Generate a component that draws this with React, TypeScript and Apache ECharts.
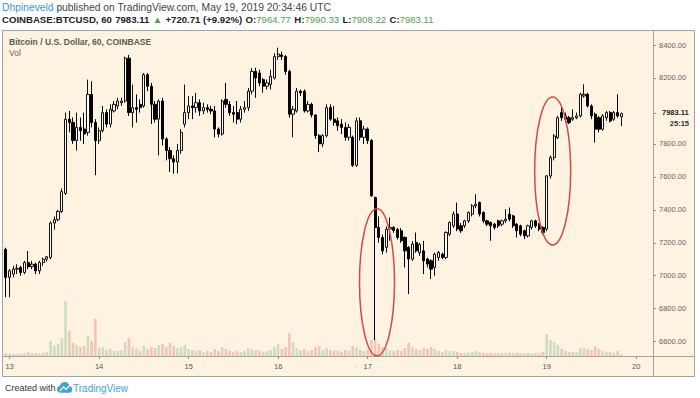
import React, { useEffect, useRef } from "react";
import * as echarts from "echarts";

// Hourly candles, [open, close, low, high]; first candle = May 12 23:00 UTC
const may12 = [[7160, 6990, 6870, 7170]];
const may13 = [
  [6990, 7030, 6870, 7040], [7010, 7040, 6990, 7060], [7040, 7045, 7010, 7070], [7050, 7020, 7000, 7060],
  [7020, 7080, 7010, 7090], [7080, 7055, 7040, 7150], [7055, 7070, 7040, 7090], [7070, 7030, 7010, 7080],
  [7030, 7080, 7010, 7090], [7080, 7100, 7060, 7110], [7100, 7115, 7085, 7120], [7110, 7320, 7100, 7330],
  [7320, 7340, 7280, 7360], [7340, 7390, 7330, 7400], [7390, 7510, 7380, 7530], [7500, 7950, 7490, 7990],
  [7950, 7930, 7870, 8000], [7930, 7820, 7800, 7960], [7820, 7900, 7760, 7990], [7900, 7880, 7820, 7960],
  [7890, 7860, 7800, 7990], [7870, 8100, 7850, 8190], [8100, 7930, 7900, 8180], [7930, 7820, 7610, 7950],
];
const may14 = [
  [7820, 7880, 7800, 7900], [7880, 7990, 7870, 8030], [7990, 7920, 7900, 8010], [7920, 8010, 7900, 8040],
  [8000, 8040, 7990, 8060], [8030, 8060, 8010, 8080], [8050, 8060, 8030, 8080], [8060, 8320, 8050, 8330],
  [8320, 7990, 7970, 8340], [7990, 8020, 7900, 8160], [8020, 8010, 7930, 8100], [8040, 8020, 7990, 8070],
  [8030, 8220, 8020, 8230], [8220, 8150, 8120, 8230], [8150, 8040, 7920, 8170], [8040, 7950, 7930, 8060],
  [7950, 8060, 7730, 8070], [8060, 7830, 7790, 8080], [7830, 7760, 7700, 7840], [7760, 7710, 7630, 7780],
  [7710, 7690, 7620, 7730], [7690, 7760, 7620, 7800], [7760, 7870, 7740, 7890], [7920, 7990, 7900, 8160],
];
const may15 = [
  [7990, 8030, 7950, 8090], [8030, 8020, 7950, 8090], [8020, 8050, 7990, 8110], [8050, 8000, 7970, 8070],
  [8000, 8020, 7980, 8050], [8020, 8010, 7990, 8040], [8010, 8000, 7980, 8030], [8000, 7890, 7840, 8030],
  [7890, 7860, 7840, 7900], [7860, 8060, 7850, 8070], [8070, 8040, 8020, 8170], [8040, 7990, 7970, 8060],
  [7990, 7980, 7930, 8030], [7990, 7950, 7920, 8060], [7950, 8010, 7930, 8030], [8010, 8020, 7990, 8060],
  [8020, 8120, 8000, 8140], [8120, 8240, 8100, 8260], [8240, 8200, 8080, 8262], [8230, 8170, 8150, 8250],
  [8190, 8150, 8110, 8200], [8150, 8170, 8130, 8190], [8160, 8210, 8130, 8250], [8200, 8330, 8190, 8350],
];
const may16 = [
  [8330, 8345, 8310, 8384], [8340, 8330, 8310, 8360], [8330, 8240, 8220, 8340], [8240, 7980, 7960, 8250],
  [7980, 8010, 7840, 8030], [8000, 8120, 7990, 8140], [8120, 8110, 8090, 8130], [8120, 8000, 7990, 8130],
  [8000, 8040, 7990, 8060], [8040, 7975, 7960, 8050], [7975, 7850, 7830, 7980], [7850, 7800, 7750, 7860],
  [7800, 7850, 7780, 7860], [7850, 8020, 7840, 8040], [8020, 7950, 7940, 8040], [7950, 7930, 7910, 8030],
  [7940, 7910, 7880, 7960], [7920, 7900, 7860, 7950], [7900, 7840, 7820, 7930], [7840, 7900, 7820, 7920],
  [7840, 7670, 7660, 7850], [7670, 7940, 7660, 7960], [7940, 7840, 7820, 7960], [7840, 7890, 7800, 7910],
];
const may17 = [
  [7890, 7820, 7800, 7900], [7820, 7485, 7480, 7830], [7475, 7293, 6610, 7480], [7293, 7232, 7200, 7360],
  [7232, 7151, 7130, 7250], [7172, 7283, 7140, 7300], [7283, 7293, 7212, 7353], [7293, 7275, 7260, 7300],
  [7280, 7232, 7220, 7290], [7273, 7212, 7200, 7290], [7232, 7151, 7050, 7240], [7172, 7101, 6889, 7180],
  [7101, 7192, 7090, 7210], [7202, 7151, 7140, 7262], [7140, 7190, 7120, 7200], [7151, 7091, 7010, 7212],
  [7101, 7071, 7050, 7110], [7091, 7040, 6980, 7100], [7050, 7131, 7000, 7140], [7111, 7141, 7090, 7150],
  [7131, 7111, 7100, 7140], [7111, 7262, 7100, 7270], [7252, 7323, 7240, 7330], [7303, 7374, 7290, 7390],
];
const may18 = [
  [7374, 7283, 7270, 7444], [7303, 7273, 7260, 7320], [7303, 7333, 7290, 7340], [7333, 7384, 7320, 7390],
  [7374, 7424, 7360, 7435], [7424, 7434, 7410, 7495], [7444, 7374, 7360, 7450], [7384, 7333, 7320, 7390],
  [7333, 7313, 7300, 7340], [7323, 7303, 7212, 7330], [7313, 7293, 7280, 7320], [7333, 7303, 7290, 7340],
  [7313, 7333, 7300, 7340], [7333, 7343, 7320, 7404], [7374, 7343, 7330, 7414], [7363, 7303, 7290, 7370],
  [7313, 7273, 7232, 7320], [7303, 7252, 7240, 7310], [7273, 7242, 7222, 7280], [7242, 7303, 7232, 7310],
  [7293, 7333, 7280, 7340], [7333, 7303, 7290, 7340], [7313, 7283, 7270, 7320], [7293, 7262, 7250, 7300],
];
const may19 = [
  [7283, 7606, 7270, 7610], [7606, 7717, 7590, 7730], [7717, 7848, 7700, 7860], [7838, 7959, 7830, 7970],
  [7990, 7959, 7940, 8030], [7950, 7970, 7930, 7990], [7959, 7929, 7920, 7970], [7950, 7959, 7940, 8010],
  [7959, 7970, 7950, 7990], [7970, 8101, 7960, 8110], [8091, 8101, 8080, 8162], [8101, 8030, 8020, 8110],
  [8030, 7970, 7950, 8040], [7980, 7889, 7808, 7990], [7959, 7889, 7870, 7970], [7889, 7970, 7880, 7980],
  [7959, 7990, 7940, 8000], [7990, 7939, 7930, 8000], [7950, 7990, 7940, 8000], [7990, 7970, 7960, 8101],
  [7964.77, 7983.11, 7908.22, 7990.33],
];

// Hourly volume (BTC)
const volMay12 = [300];
const volMay13 = [250, 200, 250, 200, 300, 400, 250, 300, 250, 300, 400, 1500, 1000, 1200, 1800, 5500, 2500, 1300, 1100, 900, 1000, 2000, 1500, 3700];
const volMay14 = [800, 900, 600, 700, 500, 500, 600, 1400, 1800, 900, 700, 500, 1000, 700, 900, 800, 1100, 1200, 900, 1300, 1000, 800, 900, 1100];
const volMay15 = [700, 600, 500, 600, 400, 500, 400, 700, 500, 900, 700, 500, 400, 500, 400, 500, 800, 700, 600, 500, 400, 500, 600, 900];
const volMay16 = [1200, 700, 900, 2300, 1400, 800, 600, 700, 500, 600, 900, 1000, 600, 800, 600, 500, 500, 400, 600, 500, 1000, 900, 600, 500];
const volMay17 = [600, 1600, 1700, 1200, 900, 800, 600, 500, 600, 500, 800, 1300, 900, 700, 600, 800, 700, 900, 700, 500, 400, 600, 500, 500];
const volMay18 = [400, 300, 300, 350, 400, 500, 400, 300, 250, 300, 250, 300, 250, 300, 350, 300, 350, 300, 250, 300, 250, 300, 250, 400];
const volMay19 = [2200, 1600, 1400, 1100, 700, 500, 400, 400, 400, 800, 900, 700, 600, 1000, 700, 500, 400, 400, 300, 500, 200];

const priceTicks = [6600, 6800, 7000, 7200, 7400, 7600, 7800, 8000, 8200, 8400];
const lastPrice = 7983.11;
const countdown = "25:15";
const firstDay = 12;
const firstHour = 23;
const slotCount = 174;

const FONT = "Liberation Sans";
const BG = "#fdf3e0";
const FRAME = "#a3a3a3";

const LOGO_D =
  "M4 12 C1.8 12 0 10.2 0 8 C0 6.1 1.4 4.5 3.3 4.1 C3.9 1.7 6.1 0 8.7 0 C11.4 0 13.6 1.9 14.1 4.5 C15.8 4.9 17 6.4 17 8.2 C17 10.3 15.3 12 13.2 12 Z";

export default function App() {
  const ref = useRef<HTMLDivElement>(null);
  useEffect(() => {
    echarts.graphic.registerShape("tvlogo", echarts.graphic.extendPath(LOGO_D, {}));
    const chart = echarts.init(ref.current as HTMLDivElement, null, { renderer: "svg" });
    const candles = [...may12, ...may13, ...may14, ...may15, ...may16, ...may17, ...may18, ...may19];
    const vols = [...volMay12, ...volMay13, ...volMay14, ...volMay15, ...volMay16, ...volMay17, ...volMay18, ...volMay19];
    const cats: string[] = [];
    for (let s = 0; s < slotCount; s++) {
      const t = firstHour + s;
      const d = firstDay + Math.floor(t / 24);
      const h = t % 24;
      cats.push(`${d} ${String(h).padStart(2, "0")}:00`);
    }
    const isMidnight = (_i: number, v: string) => v.endsWith(" 00:00");
    const volData = vols.map((v, i) => ({
      value: v,
      itemStyle: { color: candles[i][1] >= candles[i][0] ? "rgba(96,172,112,0.3)" : "rgba(214,96,86,0.3)" },
    }));
    // the last-price label hides the nearby regular tick label
    const shownTicks = priceTicks.filter((v) => Math.abs(v - lastPrice) > 60);

    chart.setOption({
      animation: false,
      backgroundColor: "#ffffff",
      grid: [
        { left: 4, right: 47, top: 31, bottom: 42 },
        { left: 4, right: 47, top: 281, bottom: 42 },
      ],
      xAxis: [
        {
          type: "category",
          gridIndex: 0,
          data: cats,
          boundaryGap: true,
          axisLine: { show: false },
          axisTick: { show: true, interval: isMidnight, alignWithLabel: true, length: 3, lineStyle: { color: "#888" } },
          axisLabel: {
            interval: isMidnight,
            formatter: (v: string) => v.split(" ")[0],
            fontSize: 7.5,
            fontFamily: FONT,
            color: "#555",
            margin: 6,
          },
          splitLine: { show: false },
        },
        { type: "category", gridIndex: 1, data: cats, show: false, boundaryGap: true },
      ],
      yAxis: [
        {
          type: "value",
          gridIndex: 0,
          position: "right",
          min: 6513,
          max: 8485,
          axisLine: { show: false },
          axisTick: { show: true, customValues: [...shownTicks, lastPrice], length: 3, lineStyle: { color: "#888" } },
          axisLabel: {
            customValues: shownTicks,
            formatter: (v: number) => v.toFixed(2),
            fontSize: 7.5,
            fontFamily: FONT,
            color: "#666",
            margin: 6,
          },
          splitLine: { show: false },
        },
        { type: "value", gridIndex: 1, min: 0, max: 7500, show: false },
      ],
      series: [
        {
          type: "bar",
          xAxisIndex: 1,
          yAxisIndex: 1,
          data: volData,
          barWidth: "70%",
          z: 1,
        },
        {
          type: "candlestick",
          xAxisIndex: 0,
          yAxisIndex: 0,
          data: candles,
          barWidth: "72%",
          z: 3,
          itemStyle: {
            color: "#ffffff",
            color0: "#000000",
            borderColor: "#111111",
            borderColor0: "#000000",
            borderWidth: 1,
          },
        },
      ],
    });

    const px = (i: number, p: number) => chart.convertToPixel({ xAxisIndex: 0, yAxisIndex: 0 }, [i, p]) as number[];
    const w = px(1, 7000)[0] - px(0, 7000)[0];
    const e1 = px(99, 6960);
    const e2 = px(146, 7636);
    const lp = px(0, lastPrice);

    chart.setOption({
      graphic: [
        {
          type: "rect",
          z: -100,
          silent: true,
          shape: { x: 2.5, y: 30.5, width: 692, height: 346 },
          style: { fill: BG, stroke: FRAME, lineWidth: 1 },
        },
        { type: "line", z: 50, silent: true, shape: { x1: 653.5, y1: 30.5, x2: 653.5, y2: 376.5 }, style: { stroke: FRAME, lineWidth: 1 } },
        { type: "line", z: 50, silent: true, shape: { x1: 2.5, y1: 356.5, x2: 694.5, y2: 356.5 }, style: { stroke: FRAME, lineWidth: 1 } },
        {
          type: "text",
          x: 2,
          y: 7,
          z: 50,
          style: {
            text: "{a|Dhpineveld}{b| published on TradingView.com, May 19, 2019 20:34:46 UTC}",
            verticalAlign: "middle",
            rich: {
              a: { fontSize: 10.3, fontFamily: FONT, fill: "#3c96d6" },
              b: { fontSize: 10.3, fontFamily: FONT, fill: "#444444" },
            },
          },
        },
        {
          type: "text",
          x: 2,
          y: 19,
          z: 50,
          style: {
            text:
              "{k|COINBASE:BTCUSD, 60} {k|7983.11} {g|▲} {k|+720.71 (+9.92%)} {k|O:}{g|7964.77} {k|H:}{g|7990.33} {k|L:}{g|7908.22} {k|C:}{g|7983.11}",
            verticalAlign: "middle",
            rich: {
              k: { fontSize: 9.6, fontFamily: FONT, fontWeight: "bold", fill: "#222222" },
              g: { fontSize: 9.6, fontFamily: FONT, fill: "#4aa54a" },
            },
          },
        },
        {
          type: "text",
          x: 9,
          y: 42,
          z: 50,
          style: { text: "Bitcoin / U.S. Dollar, 60, COINBASE", fontSize: 8.5, fontWeight: "bold", fontFamily: FONT, fill: "#5a5a5a", verticalAlign: "middle" },
        },
        {
          type: "text",
          x: 9,
          y: 53,
          z: 50,
          style: { text: "Vol", fontSize: 8.5, fontFamily: FONT, fill: "#6a6a6a", verticalAlign: "middle" },
        },
        {
          type: "text",
          x: 662,
          y: lp[1] - 1,
          z: 50,
          style: { text: lastPrice.toFixed(2), fontSize: 7.5, fontWeight: "bold", fontFamily: FONT, fill: "#222222", verticalAlign: "middle" },
        },
        {
          type: "text",
          x: 689,
          y: lp[1] + 10,
          z: 50,
          style: { text: countdown, fontSize: 7.5, fontWeight: "bold", fontFamily: FONT, fill: "#333333", align: "right", verticalAlign: "middle" },
        },
        {
          type: "ellipse",
          z: 60,
          silent: true,
          shape: { cx: e1[0] + w * 0.5, cy: e1[1], rx: 17.5, ry: 73.5 },
          style: { fill: "none", stroke: "#cf4b46", lineWidth: 1.5 },
        },
        {
          type: "ellipse",
          z: 60,
          silent: true,
          shape: { cx: e2[0] + w * 0.6, cy: e2[1], rx: 18, ry: 74 },
          style: { fill: "none", stroke: "#cf4b46", lineWidth: 1.5 },
        },
        {
          type: "text",
          x: 5,
          y: 388,
          z: 50,
          style: { text: "Created with", fontSize: 9, fontFamily: FONT, fill: "#333333", verticalAlign: "middle" },
        },
        {
          type: "tvlogo",
          x: 57,
          y: 382,
          scaleX: 0.9,
          scaleY: 0.9,
          z: 50,
          style: { fill: "#3ea0dc" },
        },
        {
          type: "polyline",
          z: 51,
          shape: { points: [[60, 391], [63.5, 387], [66, 389.5], [70, 385]] },
          style: { stroke: "#ffffff", lineWidth: 1.2, fill: "none" },
        },
        {
          type: "text",
          x: 73,
          y: 388,
          z: 50,
          style: { text: "TradingView", fontSize: 10, fontFamily: FONT, fill: "#3ea0dc", verticalAlign: "middle" },
        },
      ],
    });

    return () => chart.dispose();
  }, []);
  return <div ref={ref} style={{ position: "absolute", left: 0, top: 0, width: 700, height: 398 }} />;
}
